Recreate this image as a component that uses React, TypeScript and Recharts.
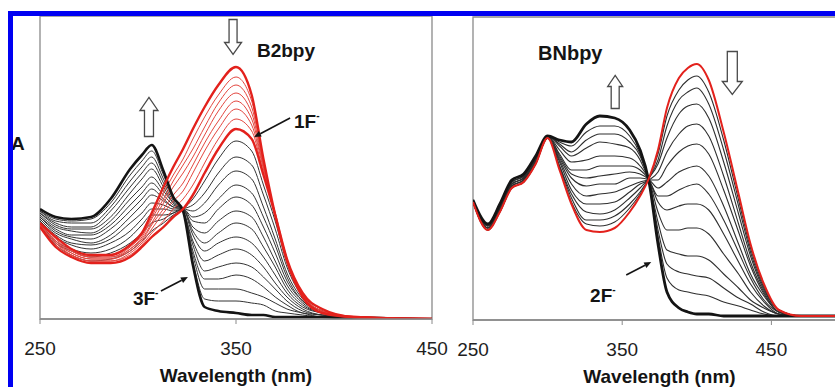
import React from "react";
import {
  LineChart,
  Line,
  XAxis,
  YAxis,
  ReferenceArea,
  ReferenceDot,
  Label,
} from "recharts";

// ---- B2bpy panel (left) ----
const LEFT_WL = [250, 258, 266, 276, 286, 296, 302, 307, 313, 318, 323, 328, 334, 341, 350, 358, 364, 370, 376, 384, 394, 410, 450];

// first stage, 0 -> 1 eq F- (red); first = free B2bpy, last = 1F-
const LEFT_RED = [
  [0.48, 0.41, 0.35, 0.32, 0.32, 0.37, 0.43, 0.53, 0.66, 0.76, 0.85, 0.95, 1.06, 1.17, 1.26, 1.12, 0.80, 0.52, 0.29, 0.11, 0.03, 0.01, 0],
  [0.48, 0.40, 0.34, 0.31, 0.31, 0.36, 0.42, 0.51, 0.63, 0.72, 0.80, 0.90, 1.01, 1.12, 1.21, 1.09, 0.79, 0.52, 0.29, 0.11, 0.03, 0.01, 0],
  [0.47, 0.39, 0.34, 0.31, 0.31, 0.35, 0.41, 0.50, 0.60, 0.69, 0.77, 0.85, 0.96, 1.08, 1.17, 1.06, 0.78, 0.52, 0.29, 0.12, 0.04, 0.01, 0],
  [0.47, 0.39, 0.33, 0.30, 0.30, 0.35, 0.40, 0.48, 0.58, 0.66, 0.73, 0.81, 0.92, 1.04, 1.13, 1.03, 0.77, 0.52, 0.29, 0.12, 0.04, 0.01, 0],
  [0.47, 0.38, 0.33, 0.30, 0.30, 0.34, 0.39, 0.47, 0.55, 0.62, 0.68, 0.77, 0.88, 0.99, 1.09, 1.00, 0.76, 0.52, 0.30, 0.12, 0.04, 0.01, 0],
  [0.47, 0.38, 0.32, 0.29, 0.29, 0.33, 0.38, 0.45, 0.53, 0.59, 0.64, 0.73, 0.84, 0.95, 1.05, 0.97, 0.75, 0.52, 0.30, 0.12, 0.04, 0.01, 0],
  [0.46, 0.37, 0.32, 0.29, 0.29, 0.32, 0.37, 0.43, 0.49, 0.55, 0.60, 0.67, 0.78, 0.90, 1.00, 0.94, 0.73, 0.52, 0.30, 0.13, 0.05, 0.01, 0],
  [0.46, 0.36, 0.31, 0.28, 0.28, 0.31, 0.36, 0.41, 0.46, 0.51, 0.55, 0.62, 0.73, 0.85, 0.95, 0.90, 0.72, 0.52, 0.30, 0.13, 0.05, 0.01, 0],
];

// second stage, 1 -> 3 eq F- (black); last = 3F-
const LEFT_BLACK = [
  [0.47, 0.37, 0.32, 0.29, 0.30, 0.34, 0.39, 0.44, 0.48, 0.52, 0.55, 0.60, 0.69, 0.80, 0.89, 0.84, 0.67, 0.49, 0.28, 0.12, 0.05, 0.01, 0],
  [0.47, 0.38, 0.34, 0.31, 0.33, 0.38, 0.43, 0.48, 0.50, 0.53, 0.55, 0.57, 0.63, 0.73, 0.81, 0.77, 0.62, 0.45, 0.26, 0.11, 0.04, 0.01, 0],
  [0.48, 0.39, 0.35, 0.33, 0.35, 0.41, 0.47, 0.52, 0.52, 0.53, 0.55, 0.54, 0.58, 0.67, 0.74, 0.70, 0.56, 0.40, 0.23, 0.10, 0.04, 0.01, 0],
  [0.49, 0.41, 0.37, 0.35, 0.38, 0.44, 0.50, 0.55, 0.55, 0.54, 0.55, 0.51, 0.53, 0.60, 0.67, 0.63, 0.51, 0.37, 0.21, 0.09, 0.04, 0.01, 0],
  [0.49, 0.42, 0.38, 0.37, 0.40, 0.48, 0.53, 0.58, 0.57, 0.55, 0.55, 0.49, 0.48, 0.55, 0.61, 0.57, 0.46, 0.33, 0.19, 0.09, 0.04, 0.01, 0],
  [0.50, 0.43, 0.40, 0.38, 0.42, 0.51, 0.57, 0.62, 0.59, 0.56, 0.55, 0.46, 0.43, 0.49, 0.54, 0.51, 0.41, 0.29, 0.17, 0.08, 0.03, 0.01, 0],
  [0.51, 0.44, 0.41, 0.40, 0.45, 0.54, 0.60, 0.65, 0.60, 0.56, 0.55, 0.44, 0.38, 0.43, 0.48, 0.45, 0.36, 0.26, 0.15, 0.07, 0.03, 0.01, 0],
  [0.51, 0.45, 0.42, 0.42, 0.47, 0.57, 0.63, 0.68, 0.62, 0.57, 0.55, 0.42, 0.34, 0.38, 0.41, 0.38, 0.31, 0.22, 0.13, 0.06, 0.03, 0.01, 0],
  [0.52, 0.46, 0.44, 0.43, 0.49, 0.60, 0.66, 0.71, 0.64, 0.58, 0.54, 0.39, 0.29, 0.32, 0.35, 0.32, 0.26, 0.18, 0.11, 0.05, 0.02, 0.01, 0],
  [0.53, 0.47, 0.45, 0.45, 0.51, 0.63, 0.70, 0.75, 0.66, 0.58, 0.54, 0.37, 0.24, 0.26, 0.28, 0.26, 0.21, 0.15, 0.09, 0.04, 0.02, 0.01, 0],
  [0.53, 0.48, 0.46, 0.46, 0.54, 0.66, 0.73, 0.78, 0.68, 0.59, 0.54, 0.34, 0.20, 0.20, 0.22, 0.20, 0.16, 0.11, 0.07, 0.03, 0.02, 0.01, 0],
  [0.54, 0.49, 0.48, 0.48, 0.56, 0.69, 0.76, 0.81, 0.70, 0.60, 0.54, 0.32, 0.15, 0.15, 0.15, 0.13, 0.11, 0.08, 0.05, 0.03, 0.01, 0.01, 0],
  [0.54, 0.50, 0.49, 0.50, 0.58, 0.72, 0.79, 0.84, 0.72, 0.60, 0.54, 0.29, 0.10, 0.09, 0.09, 0.08, 0.07, 0.04, 0.03, 0.02, 0.01, 0.01, 0],
  [0.55, 0.51, 0.50, 0.51, 0.60, 0.75, 0.82, 0.87, 0.74, 0.61, 0.54, 0.27, 0.06, 0.04, 0.03, 0.02, 0.02, 0.01, 0.01, 0.01, 0.01, 0, 0],
];

// ---- BNbpy panel (right) ----
const RIGHT_WL = [250, 260, 268, 276, 284, 292, 300, 308, 316, 326, 335, 345, 355, 362, 368, 374, 380, 388, 394, 400, 408, 418, 428, 436, 445, 455, 470, 500];

const RIGHT_FREE = [0.59, 0.45, 0.54, 0.66, 0.69, 0.78, 0.91, 0.75, 0.58, 0.45, 0.44, 0.46, 0.54, 0.62, 0.71, 0.85, 1.06, 1.21, 1.26, 1.28, 1.20, 0.94, 0.63, 0.38, 0.18, 0.05, 0.02, 0.02];

// titration steps, last = 2F-
const RIGHT_STEPS = [
  [0.59, 0.45, 0.54, 0.66, 0.69, 0.78, 0.91, 0.76, 0.59, 0.48, 0.47, 0.49, 0.56, 0.63, 0.71, 0.83, 1.02, 1.15, 1.20, 1.22, 1.14, 0.90, 0.60, 0.36, 0.17, 0.05, 0.02, 0.02],
  [0.59, 0.45, 0.54, 0.66, 0.69, 0.78, 0.91, 0.77, 0.61, 0.50, 0.50, 0.52, 0.58, 0.64, 0.71, 0.80, 0.97, 1.10, 1.14, 1.16, 1.08, 0.85, 0.57, 0.34, 0.16, 0.05, 0.02, 0.02],
  [0.59, 0.45, 0.55, 0.67, 0.70, 0.79, 0.91, 0.77, 0.63, 0.54, 0.53, 0.55, 0.61, 0.66, 0.71, 0.78, 0.91, 1.03, 1.07, 1.08, 1.01, 0.79, 0.53, 0.32, 0.15, 0.05, 0.02, 0.02],
  [0.59, 0.46, 0.55, 0.67, 0.70, 0.79, 0.91, 0.79, 0.65, 0.58, 0.58, 0.59, 0.64, 0.68, 0.70, 0.74, 0.84, 0.93, 0.97, 0.98, 0.92, 0.72, 0.48, 0.29, 0.14, 0.04, 0.02, 0.02],
  [0.59, 0.46, 0.55, 0.67, 0.70, 0.79, 0.91, 0.80, 0.68, 0.62, 0.63, 0.64, 0.67, 0.69, 0.70, 0.70, 0.77, 0.84, 0.87, 0.88, 0.83, 0.65, 0.44, 0.27, 0.13, 0.04, 0.02, 0.02],
  [0.59, 0.46, 0.56, 0.68, 0.71, 0.80, 0.91, 0.81, 0.71, 0.67, 0.68, 0.68, 0.71, 0.71, 0.70, 0.66, 0.69, 0.74, 0.76, 0.77, 0.72, 0.57, 0.38, 0.23, 0.12, 0.04, 0.02, 0.02],
  [0.60, 0.46, 0.56, 0.68, 0.71, 0.80, 0.92, 0.82, 0.73, 0.71, 0.72, 0.73, 0.74, 0.73, 0.70, 0.62, 0.62, 0.65, 0.67, 0.68, 0.63, 0.50, 0.34, 0.21, 0.10, 0.04, 0.02, 0.02],
  [0.60, 0.47, 0.56, 0.68, 0.71, 0.80, 0.92, 0.83, 0.75, 0.75, 0.77, 0.77, 0.77, 0.75, 0.70, 0.59, 0.55, 0.57, 0.58, 0.58, 0.55, 0.43, 0.29, 0.18, 0.09, 0.03, 0.02, 0.02],
  [0.60, 0.47, 0.57, 0.69, 0.72, 0.81, 0.92, 0.85, 0.79, 0.80, 0.82, 0.82, 0.81, 0.77, 0.70, 0.54, 0.45, 0.45, 0.46, 0.46, 0.43, 0.33, 0.23, 0.14, 0.07, 0.03, 0.02, 0.02],
  [0.60, 0.47, 0.57, 0.69, 0.72, 0.81, 0.92, 0.87, 0.82, 0.86, 0.89, 0.88, 0.86, 0.80, 0.69, 0.49, 0.35, 0.33, 0.32, 0.32, 0.30, 0.23, 0.16, 0.10, 0.06, 0.03, 0.02, 0.02],
  [0.60, 0.48, 0.57, 0.69, 0.72, 0.81, 0.92, 0.88, 0.84, 0.90, 0.93, 0.93, 0.89, 0.82, 0.69, 0.45, 0.28, 0.24, 0.23, 0.22, 0.21, 0.16, 0.11, 0.08, 0.04, 0.02, 0.02, 0.02],
  [0.60, 0.48, 0.58, 0.70, 0.73, 0.82, 0.92, 0.89, 0.87, 0.94, 0.97, 0.97, 0.92, 0.83, 0.69, 0.42, 0.21, 0.15, 0.14, 0.13, 0.12, 0.09, 0.07, 0.05, 0.03, 0.02, 0.02, 0.02],
  [0.60, 0.48, 0.58, 0.70, 0.73, 0.82, 0.92, 0.90, 0.89, 0.98, 1.02, 1.01, 0.95, 0.85, 0.69, 0.38, 0.14, 0.06, 0.04, 0.03, 0.03, 0.02, 0.02, 0.02, 0.02, 0.02, 0.02, 0.02],
];

const X_TICKS = [250, 350, 450];
const Y_TOP = 1.515;

const FONT = "'Liberation Sans', Arial, Helvetica, sans-serif";
const RED = "#e3211c";
const RED_THIN = "#e4463f";
const INK = "#141414";
const FRAME = "#8a8a8a";

function buildRows(wl: number[], groups: Record<string, number[][]>) {
  return wl.map((w, i) => {
    const row: Record<string, number> = { wl: w };
    Object.entries(groups).forEach(([prefix, curves]) => {
      curves.forEach((c, k) => {
        row[prefix + k] = c[i];
      });
    });
    return row;
  });
}

const leftRows = buildRows(LEFT_WL, { r: LEFT_RED, b: LEFT_BLACK });
const rightRows = buildRows(RIGHT_WL, { s: RIGHT_STEPS, f: [RIGHT_FREE] });

function HollowArrow(props: any) {
  const { cx, cy, dir, len, shaft, head, headLen } = props;
  const top = cy - len / 2;
  const bot = cy + len / 2;
  let d: string;
  if (dir === "down") {
    d = `M${cx - shaft / 2},${top} L${cx + shaft / 2},${top} L${cx + shaft / 2},${bot - headLen} L${cx + head / 2},${bot - headLen} L${cx},${bot} L${cx - head / 2},${bot - headLen} L${cx - shaft / 2},${bot - headLen} Z`;
  } else {
    d = `M${cx - shaft / 2},${bot} L${cx + shaft / 2},${bot} L${cx + shaft / 2},${top + headLen} L${cx + head / 2},${top + headLen} L${cx},${top} L${cx - head / 2},${top + headLen} L${cx - shaft / 2},${top + headLen} Z`;
  }
  return <path d={d} fill="#fff" stroke="#4a4a4a" strokeWidth={1.3} />;
}

function Pointer(props: any) {
  const { cx, cy, dx, dy } = props;
  const x2 = cx + dx;
  const y2 = cy + dy;
  const ang = Math.atan2(dy, dx);
  const hl = 7;
  const hw = 3;
  const bx = x2 - hl * Math.cos(ang);
  const by = y2 - hl * Math.sin(ang);
  const px = -Math.sin(ang) * hw;
  const py = Math.cos(ang) * hw;
  return (
    <g>
      <line x1={cx} y1={cy} x2={bx} y2={by} stroke={INK} strokeWidth={1.6} />
      <path d={`M${x2},${y2} L${bx + px},${by + py} L${bx - px},${by - py} Z`} fill={INK} />
    </g>
  );
}

function Tag(props: any) {
  const { cx, cy, text, sup, size } = props;
  return (
    <text x={cx} y={cy} fill={INK} fontSize={size || 19} fontWeight={700} fontFamily={FONT}>
      <tspan>{text}</tspan>
      {sup ? (
        <tspan dy={-9} fontSize={10}>
          {sup}
        </tspan>
      ) : null}
    </text>
  );
}

const axisProps = {
  dataKey: "wl",
  type: "number" as const,
  ticks: X_TICKS,
  tickSize: 5,
  tickMargin: 18,
  height: 65,
  allowDataOverflow: true,
  tick: { fill: "#1e1e1e", fontSize: 19, fontFamily: FONT },
  tickLine: { stroke: FRAME },
  axisLine: { stroke: FRAME, strokeWidth: 1.4 },
};

function WavelengthLabel() {
  return (
    <Label
      value="Wavelength (nm)"
      position="insideBottom"
      offset={2}
      fill={INK}
      fontSize={19}
      fontWeight={700}
      fontFamily={FONT}
    />
  );
}

function LeftPanel() {
  const thinBlack = LEFT_BLACK.slice(0, -1);
  const thinRed = LEFT_RED.slice(1, -1);
  return (
    <LineChart width={455} height={400} data={leftRows} margin={{ top: 16, right: 23, bottom: 16, left: 40 }}>
      <XAxis {...axisProps} domain={[250, 450]}>
        {WavelengthLabel()}
      </XAxis>
      <YAxis hide domain={[0, Y_TOP]} allowDataOverflow />
      <ReferenceArea x1={250} x2={450} y1={0} y2={Y_TOP} fill="none" stroke={FRAME} strokeWidth={1.3} />
      {thinBlack.map((_, k) => (
        <Line key={"b" + k} dataKey={"b" + k} type="monotone" stroke="#333" strokeWidth={1} dot={false} activeDot={false} isAnimationActive={false} />
      ))}
      {thinRed.map((_, k) => (
        <Line key={"r" + (k + 1)} dataKey={"r" + (k + 1)} type="monotone" stroke={RED_THIN} strokeWidth={1} dot={false} activeDot={false} isAnimationActive={false} />
      ))}
      <Line dataKey={"b" + (LEFT_BLACK.length - 1)} type="monotone" stroke={INK} strokeWidth={2.6} dot={false} activeDot={false} isAnimationActive={false} />
      <Line dataKey={"r" + (LEFT_RED.length - 1)} type="monotone" stroke={RED} strokeWidth={2.4} dot={false} activeDot={false} isAnimationActive={false} />
      <Line dataKey="r0" type="monotone" stroke={RED} strokeWidth={2.4} dot={false} activeDot={false} isAnimationActive={false} />

      <ReferenceDot x={348.5} y={1.41} r={0} shape={(p: any) => <HollowArrow cx={p.cx} cy={p.cy} dir="down" len={35} shaft={8} head={17} headLen={12} />} />
      <ReferenceDot x={305.6} y={1.01} r={0} shape={(p: any) => <HollowArrow cx={p.cx} cy={p.cy} dir="up" len={39} shaft={9} head={18} headLen={13} />} />
      <ReferenceDot x={360.7} y={1.31} r={0} shape={(p: any) => <Tag cx={p.cx} cy={p.cy} text="B2bpy" />} />
      <ReferenceDot x={379.6} y={0.955} r={0} shape={(p: any) => <Tag cx={p.cx} cy={p.cy} text="1F" sup="-" />} />
      <ReferenceDot x={377.6} y={1.005} r={0} shape={(p: any) => <Pointer cx={p.cx} cy={p.cy} dx={-36} dy={19} />} />
      <ReferenceDot x={297.4} y={0.07} r={0} shape={(p: any) => <Tag cx={p.cx} cy={p.cy} text="3F" sup="-" />} />
      <ReferenceDot x={311.7} y={0.14} r={0} shape={(p: any) => <Pointer cx={p.cx} cy={p.cy} dx={27} dy={-14} />} />
    </LineChart>
  );
}

function RightPanel() {
  const steps = RIGHT_STEPS.slice(0, -1);
  return (
    <LineChart width={421} height={400} data={rightRows} margin={{ top: 16, right: 8, bottom: 16, left: 40 }}>
      <XAxis {...axisProps} domain={[250, 500]}>
        {WavelengthLabel()}
      </XAxis>
      <YAxis hide domain={[0, Y_TOP]} allowDataOverflow />
      <ReferenceArea x1={250} x2={500} y1={0} y2={Y_TOP} fill="none" stroke={FRAME} strokeWidth={1.3} />
      {steps.map((_, k) => (
        <Line key={"s" + k} dataKey={"s" + k} type="monotone" stroke="#2e2e2e" strokeWidth={1.1} dot={false} activeDot={false} isAnimationActive={false} />
      ))}
      <Line dataKey={"s" + (RIGHT_STEPS.length - 1)} type="monotone" stroke={INK} strokeWidth={2.8} dot={false} activeDot={false} isAnimationActive={false} />
      <Line dataKey="f0" type="monotone" stroke={RED} strokeWidth={2} dot={false} activeDot={false} isAnimationActive={false} />

      <ReferenceDot x={345.3} y={1.14} r={0} shape={(p: any) => <HollowArrow cx={p.cx} cy={p.cy} dir="up" len={33} shaft={8} head={15} headLen={11} />} />
      <ReferenceDot x={423.8} y={1.235} r={0} shape={(p: any) => <HollowArrow cx={p.cx} cy={p.cy} dir="down" len={43} shaft={10} head={20} headLen={13} />} />
      <ReferenceDot x={293.6} y={1.3} r={0} shape={(p: any) => <Tag cx={p.cx} cy={p.cy} text="BNbpy" size={20} />} />
      <ReferenceDot x={328.5} y={0.09} r={0} shape={(p: any) => <Tag cx={p.cx} cy={p.cy} text="2F" sup="-" />} />
      <ReferenceDot x={352.7} y={0.225} r={0} shape={(p: any) => <Pointer cx={p.cx} cy={p.cy} dx={25} dy={-13} />} />
    </LineChart>
  );
}

export default function App() {
  return (
    <div
      style={{
        position: "fixed",
        left: 0,
        top: 0,
        width: 835,
        height: 387,
        overflow: "hidden",
        background: "#fff",
        fontFamily: FONT,
      }}
    >
      <div style={{ position: "absolute", left: 0, top: 0 }}>
        <LeftPanel />
      </div>
      <div style={{ position: "absolute", left: 433, top: 1 }}>
        <RightPanel />
      </div>
      <div
        style={{
          position: "absolute",
          left: 11,
          top: 134,
          fontSize: 19,
          lineHeight: "19px",
          fontWeight: 700,
          color: INK,
        }}
      >
        A
      </div>
      <div
        style={{
          position: "absolute",
          left: 8,
          top: 11,
          width: 1000,
          height: 1000,
          boxSizing: "border-box",
          border: "5px solid #0000f2",
        }}
      />
    </div>
  );
}
